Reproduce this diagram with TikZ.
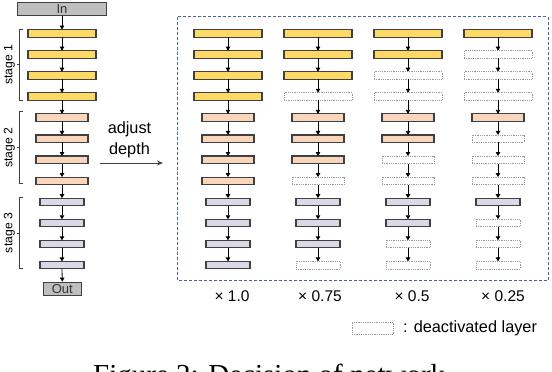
\documentclass[tikz,border=0pt]{standalone}
\usepackage{fontspec}
\setmainfont{Liberation Sans}
\newfontfamily\capfont{Liberation Serif}
\usetikzlibrary{arrows.meta}
\definecolor{ylw}{HTML}{FFD966}
\definecolor{pch}{HTML}{F9D5BC}
\definecolor{lav}{HTML}{DCD8E8}
\definecolor{gry}{HTML}{BFBFBF}
\definecolor{edgec}{HTML}{404040}
\definecolor{dashc}{HTML}{4F6490}
\definecolor{offc}{HTML}{9A9A9A}
\tikzset{
  layer/.style={draw=edgec, line width=1.1pt, minimum height=7.5pt, inner sep=0pt, outer sep=0pt},
  s1/.style={layer, fill=ylw, minimum width=68pt},
  s2/.style={layer, fill=pch, minimum width=52pt},
  s3/.style={layer, fill=lav, minimum width=44pt},
  offbox/.style={draw=offc, densely dotted, line width=0.8pt, fill=white, minimum height=7.5pt, inner sep=0pt, outer sep=0pt},
  d1/.style={offbox, minimum width=68pt},
  d2/.style={offbox, minimum width=52pt},
  d3/.style={offbox, minimum width=44pt},
  iobox/.style={draw=edgec, fill=gry, line width=1.1pt, inner sep=0pt, minimum height=13pt, text=black!80, font=\fontsize{13}{13}\selectfont},
  conn/.style={-{Triangle[length=4pt,width=4.5pt]}, line width=0.8pt, black},
  brk/.style={draw=edgec, line width=0.8pt},
  stagelbl/.style={rotate=90, font=\fontsize{12.2}{12.2}\selectfont, inner sep=0pt},
  dashbox/.style={draw=dashc, line width=0.9pt, dash pattern=on 3pt off 2pt},
  scalelbl/.style={font=\fontsize{15.5}{15.5}\selectfont, inner sep=0pt},
}
\begin{document}
\begin{tikzpicture}[x=1pt,y=-1pt]
\useasboundingbox (0,0) rectangle (552,372);
% left column
\node[iobox, minimum width=89pt] (Lin) at (62,8.7) {In};
\foreach \i in {0,...,11}{
  \pgfmathtruncatemacro\st{int(\i/4)+1}
  \node[s\st] (L\i) at (62,{33.3+21.08*\i}) {};
}
\node[iobox, minimum width=38.5pt] (Lout) at (62.3,288.7) {Out};
\draw[conn] (Lin.south) -- (L0.north);
\foreach \i [evaluate=\i as \n using int(\i+1)] in {0,...,10}{
  \draw[conn] (L\i.south) -- (L\n.north);
}
\draw[conn] (L11.south) -- (Lout.north);
% brackets
\draw[brk] (22.7,29.3) -- (19.3,29.3) -- (19.3,100) -- (22.7,100);
\draw[brk] (19.3,64.7) -- (16.7,64.7);
\node[stagelbl] (st1) at (9.5,64.7) {stage 1};
\draw[brk] (22.7,111.7) -- (19.3,111.7) -- (19.3,183.3) -- (22.7,183.3);
\draw[brk] (19.3,147.5) -- (16.7,147.5);
\node[stagelbl] (st2) at (9.5,147.5) {stage 2};
\draw[brk] (22.7,197.7) -- (19.3,197.7) -- (19.3,268.3) -- (22.7,268.3);
\draw[brk] (19.3,233) -- (16.7,233);
\node[stagelbl] (st3) at (9.5,233) {stage 3};
% adjust depth
\node[align=center, font=\fontsize{16.3}{20.5}\selectfont, inner sep=0pt] (adj) at (129.5,140) {adjust\\depth};
\coordinate (a1) at (100,163);
\coordinate (a2) at (163,163);
\draw[-{Stealth[length=6pt,width=5pt]}, line width=0.9pt, edgec] (a1) -- (a2);
% dashed frame
\draw[dashbox] (177.7,16.7) rectangle (548,280.7);
% right columns
\foreach \c/\k in {1/4,2/3,3/2,4/1}{
  \foreach \i in {0,...,11}{
    \pgfmathtruncatemacro\st{int(\i/4)+1}
    \pgfmathtruncatemacro\j{mod(\i,4)}
    \ifnum\j<\k\relax
      \node[s\st] (c\c r\i) at ({228+90*(\c-1)},{33.3+21.08*\i}) {};
    \else
      \node[d\st] (c\c r\i) at ({228+90*(\c-1)},{33.3+21.08*\i}) {};
    \fi
  }
  \foreach \i [evaluate=\i as \n using int(\i+1)] in {0,...,10}{
    \draw[conn] (c\c r\i.south) -- (c\c r\n.north);
  }
}
% scale labels
\node[scalelbl] (x1) at (232,296) {× 1.0};
\node[scalelbl] (x2) at (320,296) {× 0.75};
\node[scalelbl] (x3) at (412,296) {× 0.5};
\node[scalelbl] (x4) at (503,296) {× 0.25};
% legend
\node[offbox, minimum width=41pt, minimum height=12.5pt] (leg) at (372.5,328.3) {};
\node[anchor=west, inner sep=0pt, font=\fontsize{16.3}{16.3}\selectfont] (legtxt) at (403,328.3) {: deactivated layer};
% caption (cut off at the bottom)
\begin{scope}
\clip (0,0) rectangle (552,372);
\node[anchor=base west, inner sep=0pt, font=\capfont\fontsize{29}{29}\selectfont] (cap) at (93,384.5) {Figure 2: Decision of network};
\end{scope}
\end{tikzpicture}
\end{document}
